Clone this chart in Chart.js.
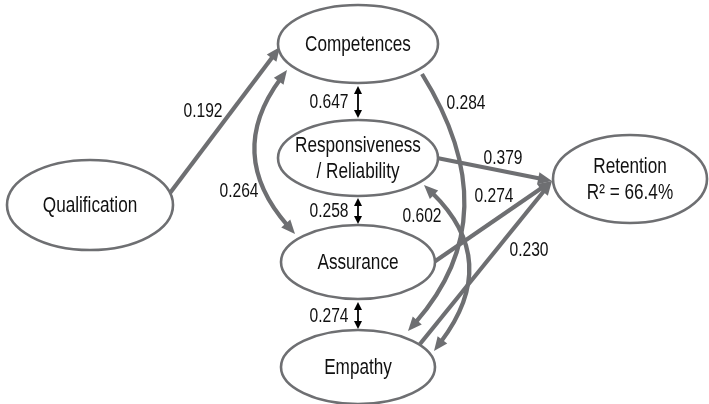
<!DOCTYPE html>
<html>
<head>
<meta charset="utf-8">
<script src="https://cdn.jsdelivr.net/npm/chart.js@4/dist/chart.umd.min.js"></script>
<style>
html,body{margin:0;padding:0;background:#fff;}
#wrap{width:709px;height:404px;}
</style>
</head>
<body>
<div id="wrap"><canvas id="c" width="709" height="404"></canvas></div>
<script>
// ---------- data ----------
const constructs = ['Qualification', 'Competences', 'Responsiveness\n/ Reliability', 'Assurance', 'Empathy', 'Retention\nR\u00B2 = 66.4%'];
// structural paths (from -> to, coefficient)
const pathFrom = [0, 2, 3, 4];
const pathTo   = [1, 5, 5, 5];
const pathCoef = [0.192, 0.379, 0.274, 0.230];
// curved relations
const curveFrom = [1, 1, 2];
const curveTo   = [3, 4, 4];
const curveCoef = [0.264, 0.284, 0.602];
// adjacent covariances (small black arrows)
const covFrom = [1, 2, 3];
const covTo   = [2, 3, 4];
const covCoef = [0.647, 0.258, 0.274];

// ---------- layout (data-space units) ----------
const nodeCX = [90, 358, 358, 358, 358, 630];
const nodeCY = [205, 44, 158, 262, 367, 179];
const nodeRX = [83, 80, 80, 77, 77, 77];
const nodeRY = [45, 39, 38, 37, 37, 44];
const pathStart = [[170,193],[437,158],[434,262],[420,344]];
const pathEnd   = [[280,47],[552,181],[552,181],[552,181]];
const pathLabelPos = [[203,111],[503,158],[494,196],[529,250]];
const curveStart = [[287,70],[422,74],[424,185]];
const curveCtrl  = [[225,154],[510,215],[502,261]];
const curveEnd   = [[295,234],[408,331],[434,351]];
const curveHeadStart = [true, false, true];
const curveLabelPos = [[239,191],[466,103],[422,216]];
const covX = [358, 358, 358];
const covY0 = [86, 198, 302];
const covY1 = [118, 224, 329];
const covLabelPos = [[329,102],[329,211],[329,316]];

const GRAY = '#6e6f72';
const FONT = '"Liberation Sans", Arial, sans-serif';
const NARROW = 0.78;

function head(ctx, tx, ty, dx, dy, L, W, color) {
  const len = Math.hypot(dx, dy); dx /= len; dy /= len;
  const bx = tx - dx * L, by = ty - dy * L;
  ctx.beginPath();
  ctx.moveTo(tx, ty);
  ctx.lineTo(bx - dy * W / 2, by + dx * W / 2);
  ctx.lineTo(bx + dy * W / 2, by - dx * W / 2);
  ctx.closePath();
  ctx.fillStyle = color; ctx.fill();
}

function narrowText(ctx, t, x, y) {
  ctx.save();
  ctx.translate(x, y);
  ctx.scale(NARROW, 1);
  ctx.fillText(t, 0, 0);
  ctx.restore();
}

const diagramPlugin = {
  id: 'diagram',
  afterDatasetsDraw(chart) {
    const ctx = chart.ctx;
    const xs = chart.scales.x, ys = chart.scales.y;
    const px = v => xs.getPixelForValue(v), py = v => ys.getPixelForValue(v);
    const sx = v => Math.abs(xs.getPixelForValue(v) - xs.getPixelForValue(0));
    const sy = v => Math.abs(ys.getPixelForValue(v) - ys.getPixelForValue(0));
    ctx.save();
    ctx.lineCap = 'butt';
    const L = 14, W = 12;
    // straight structural paths
    pathCoef.forEach((c, i) => {
      const x0 = px(pathStart[i][0]), y0 = py(pathStart[i][1]);
      const x1 = px(pathEnd[i][0]), y1 = py(pathEnd[i][1]);
      const dx = x1 - x0, dy = y1 - y0, len = Math.hypot(dx, dy);
      ctx.beginPath();
      ctx.moveTo(x0, y0);
      ctx.lineTo(x1 - dx / len * L * 0.8, y1 - dy / len * L * 0.8);
      ctx.strokeStyle = GRAY; ctx.lineWidth = 4.2; ctx.stroke();
      head(ctx, x1, y1, dx, dy, L, W, GRAY);
    });
    // curved relations
    curveCoef.forEach((c, i) => {
      const x0 = px(curveStart[i][0]), y0 = py(curveStart[i][1]);
      const cx = px(curveCtrl[i][0]), cy = py(curveCtrl[i][1]);
      const x2 = px(curveEnd[i][0]), y2 = py(curveEnd[i][1]);
      const d0x = x0 - cx, d0y = y0 - cy, l0 = Math.hypot(d0x, d0y);
      const d2x = x2 - cx, d2y = y2 - cy, l2 = Math.hypot(d2x, d2y);
      const sx0 = curveHeadStart[i] ? x0 - d0x / l0 * L * 0.8 : x0;
      const sy0 = curveHeadStart[i] ? y0 - d0y / l0 * L * 0.8 : y0;
      const ex = x2 - d2x / l2 * L * 0.8, ey = y2 - d2y / l2 * L * 0.8;
      ctx.beginPath();
      ctx.moveTo(sx0, sy0);
      ctx.quadraticCurveTo(cx, cy, ex, ey);
      ctx.strokeStyle = GRAY; ctx.lineWidth = 4.2; ctx.stroke();
      head(ctx, x2, y2, d2x, d2y, L, W, GRAY);
      if (curveHeadStart[i]) head(ctx, x0, y0, d0x, d0y, L, W, GRAY);
    });
    // covariances (black small double arrows)
    covCoef.forEach((c, i) => {
      const x = px(covX[i]), y0 = py(covY0[i]), y1 = py(covY1[i]);
      ctx.beginPath();
      ctx.moveTo(x, y0 + 5); ctx.lineTo(x, y1 - 5);
      ctx.strokeStyle = '#000'; ctx.lineWidth = 1.8; ctx.stroke();
      head(ctx, x, y0, 0, -1, 8, 8, '#000');
      head(ctx, x, y1, 0, 1, 8, 8, '#000');
    });
    // nodes
    constructs.forEach((name, i) => {
      ctx.beginPath();
      ctx.ellipse(px(nodeCX[i]), py(nodeCY[i]), sx(nodeRX[i]), sy(nodeRY[i]), 0, 0, Math.PI * 2);
      ctx.fillStyle = '#fff'; ctx.fill();
      ctx.strokeStyle = GRAY; ctx.lineWidth = 2.6; ctx.stroke();
      const lines = name.split('\n');
      ctx.fillStyle = '#111';
      ctx.font = '22px ' + FONT;
      ctx.textAlign = 'center'; ctx.textBaseline = 'middle';
      const lh = 26;
      lines.forEach((t, k) => {
        const oy = (k - (lines.length - 1) / 2) * lh;
        narrowText(ctx, t, px(nodeCX[i]), py(nodeCY[i]) + oy + 1);
      });
    });
    // coefficient labels
    ctx.font = '20px ' + FONT;
    ctx.fillStyle = '#111';
    ctx.textAlign = 'center'; ctx.textBaseline = 'middle';
    pathCoef.forEach((c, i) => narrowText(ctx, c.toFixed(3), px(pathLabelPos[i][0]), py(pathLabelPos[i][1])));
    curveCoef.forEach((c, i) => narrowText(ctx, c.toFixed(3), px(curveLabelPos[i][0]), py(curveLabelPos[i][1])));
    covCoef.forEach((c, i) => narrowText(ctx, c.toFixed(3), px(covLabelPos[i][0]), py(covLabelPos[i][1])));
    ctx.restore();
  }
};

new Chart(document.getElementById('c'), {
  type: 'scatter',
  data: {
    datasets: [{
      label: 'Constructs',
      data: constructs.map((n, i) => ({ x: nodeCX[i], y: nodeCY[i] })),
      pointRadius: 0,
      showLine: false
    }]
  },
  options: {
    responsive: false,
    animation: false,
    layout: { padding: 0 },
    scales: {
      x: { type: 'linear', min: 0, max: 709, display: false },
      y: { type: 'linear', min: 0, max: 404, reverse: true, display: false }
    },
    plugins: { legend: { display: false }, tooltip: { enabled: false } }
  },
  plugins: [diagramPlugin]
});
</script>
</body>
</html>
